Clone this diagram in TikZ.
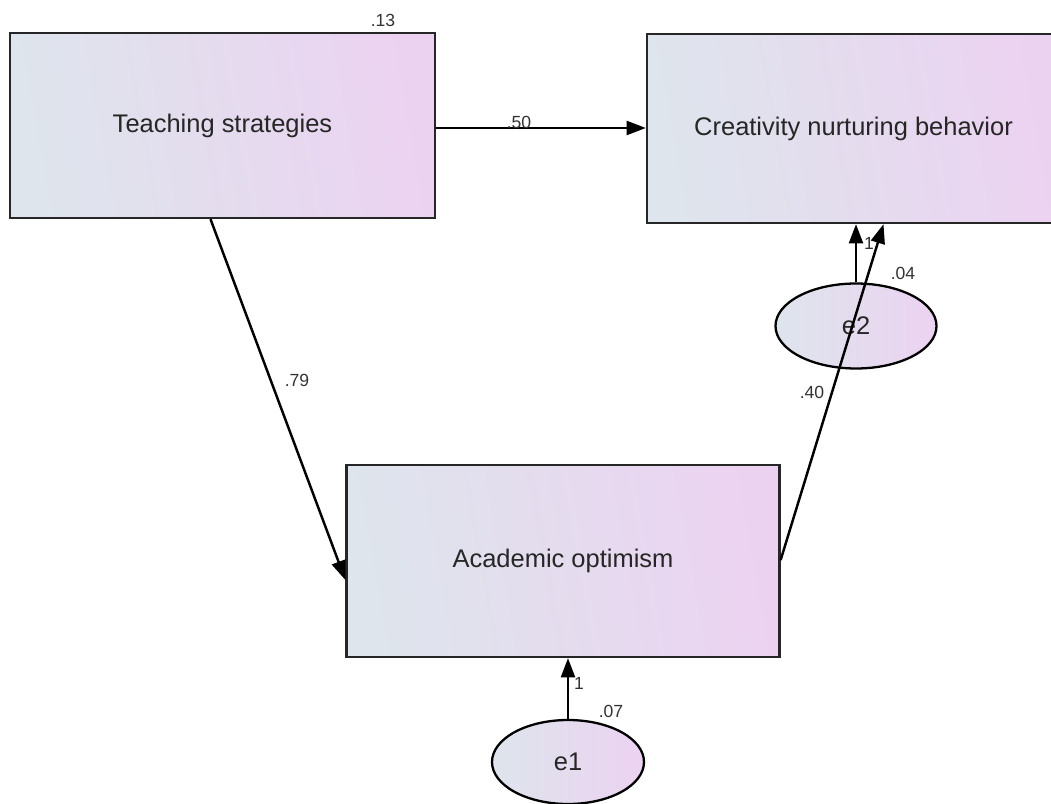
\documentclass[tikz,border=0pt]{standalone}
\usepackage{fontspec}
\setmainfont{Liberation Sans}
\usepackage{xcolor}
\usepackage{tikz}
\usetikzlibrary{shapes.geometric}
\usetikzlibrary{arrows.meta}
\usetikzlibrary{calc}
\definecolor{boxleft}{HTML}{DEE5EC}
\definecolor{boxright}{HTML}{ECD2F1}
\tikzset{
    varbox/.style = {rectangle, draw=black!85, line width=1.3pt, left color=boxleft, right color=boxright, shading angle=100, font=\fontsize{14.5}{16}\selectfont, text=black!85},
    errnode/.style = {ellipse, draw=black, line width=1.3pt, left color=boxleft, right color=boxright, inner sep=0pt, font=\fontsize{14.5}{16}\selectfont, text=black!85},
    coef/.style = {font=\fontsize{10}{12}\selectfont, text=black!80, inner sep=0pt},
}

\begin{document}
\begin{tikzpicture}[
	x=0.02cm,
	y=-0.02cm,
	line width=1.4pt
]
\tikzset{
    edgen/.style = {-{Triangle[length=11pt,width=8pt]}},
}
\useasboundingbox (0,0) rectangle (1051,804);
\clip (0,0) rectangle (1051,804);
\node[varbox, minimum width=425*0.02cm, minimum height=185*0.02cm] at (222.5,125.5) (ts) {Teaching strategies};
\node[varbox, minimum width=413*0.02cm, minimum height=189*0.02cm] at (853.5,128.5) (cnb) {Creativity nurturing behavior};
\node[varbox, minimum width=433*0.02cm, minimum height=192*0.02cm] at (563,561) (ao) {Academic optimism};
\node[errnode, minimum width=161*0.02cm, minimum height=85*0.02cm] at (856,326) (e2) {e2};
\node[errnode, minimum width=152*0.02cm, minimum height=84*0.02cm] at (568,762) (e1) {e1};
\draw[edgen] (ts.east |- 0,128) -- (cnb.west |- 0,128);
\draw[edgen] ($(ts.south)+(-12,0)$) -- ($(ao.west)+(0,19)$);
\draw[edgen] ($(ao.east)+(0,-1)$) -- ($(cnb.south)+(30,0)$);
\draw[edgen] (e2.north) -- (e2.north |- cnb.south);
\draw[edgen] (e1.north) -- (ao.south -| e1.north);
\node[coef] at (383,20) (l13) {.13};
\node[coef] at (519,122) (l50) {.50};
\node[coef] at (297,380) (l79) {.79};
\node[coef] at (812,392) (l40) {.40};
\node[coef] at (869,243) (l1b) {1};
\node[coef] at (903,273) (l04) {.04};
\node[coef] at (579,683) (l1a) {1};
\node[coef] at (611,711) (l07) {.07};
\end{tikzpicture}
\end{document}
